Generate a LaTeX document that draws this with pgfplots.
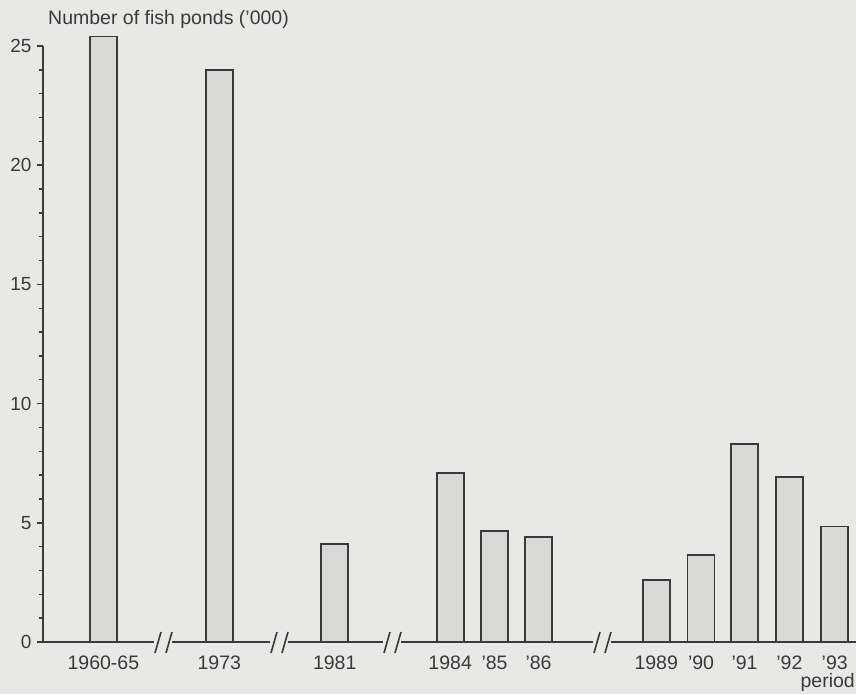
\documentclass[border=0pt]{standalone}
\usepackage{fontspec}
\setmainfont{Liberation Sans}
\usepackage{pgfplots}
\pgfplotsset{compat=1.18}
\definecolor{bg}{HTML}{E8E8E6}
\definecolor{barfill}{HTML}{D8D8D6}
\definecolor{ink}{HTML}{3A3A3A}
\begin{document}
\begin{tikzpicture}[x=1pt,y=1pt]
\useasboundingbox (0,0) rectangle (856,694);
\fill[bg] (0,0) rectangle (856,694);
\begin{axis}[
  at={(43pt,52pt)}, anchor=south west,
  scale only axis, width=813pt, height=596pt,
  xmin=0, xmax=18.31, ymin=0, ymax=25,
  enlargelimits=false, clip=false,
  axis lines*=left,
  x axis line style={draw=none},
  y axis line style={ink, line width=1.6pt},
  ytick={0,5,...,25}, minor y tick num=4,
  tick align=outside, major tick length=6pt, minor tick length=3.5pt,
  ytick style={ink, line width=1.4pt},
  xtick style={draw=none},
  /pgf/number format/assume math mode=true,
  xtick={1.36,3.97,6.57,9.17,10.17,11.16,13.81,14.82,15.80,16.81,17.83},
  xticklabels={1960-65,1973,1981,1984,'85,'86,1989,'90,'91,'92,'93},
  xticklabel style={anchor=base, yshift=-21pt, text=ink, font=\fontsize{19.5}{22}\selectfont},
  yticklabel style={text=ink, font=\fontsize{19}{22}\selectfont, xshift=-2pt},
  ybar, bar width=27pt,
]
\addplot[fill=barfill, draw=ink, line width=1.7pt] coordinates {
  (1.36,25.4) (3.97,24.0) (6.57,4.1) (9.17,7.08) (10.17,4.67) (11.16,4.39)
  (13.81,2.6) (14.82,3.66) (15.80,8.3) (16.81,6.91) (17.83,4.84)
};
\end{axis}
% x axis line with breaks
\begin{scope}[draw=ink, line width=1.6pt]
\draw (42.2,52) -- (154,52);
\draw (155,41) -- (161,62); \draw (166,41) -- (172,62);
\draw (172,52) -- (270,52);
\draw (271,41) -- (277,62); \draw (282,41) -- (288,62);
\draw (288,52) -- (383,52);
\draw (384,41) -- (390,62); \draw (395,41) -- (401,62);
\draw (401,52) -- (593,52);
\draw (594,41) -- (600,62); \draw (605,41) -- (611,62);
\draw (611,52) -- (856,52);
\end{scope}
\node[anchor=base west, inner sep=0pt, text=ink, font=\fontsize{19.5}{22}\selectfont] at (48,669) {Number of fish ponds ('000)};
\node[anchor=base east, inner sep=0pt, text=ink, font=\fontsize{19.5}{22}\selectfont] at (855,7) {period};
\end{tikzpicture}
\end{document}
